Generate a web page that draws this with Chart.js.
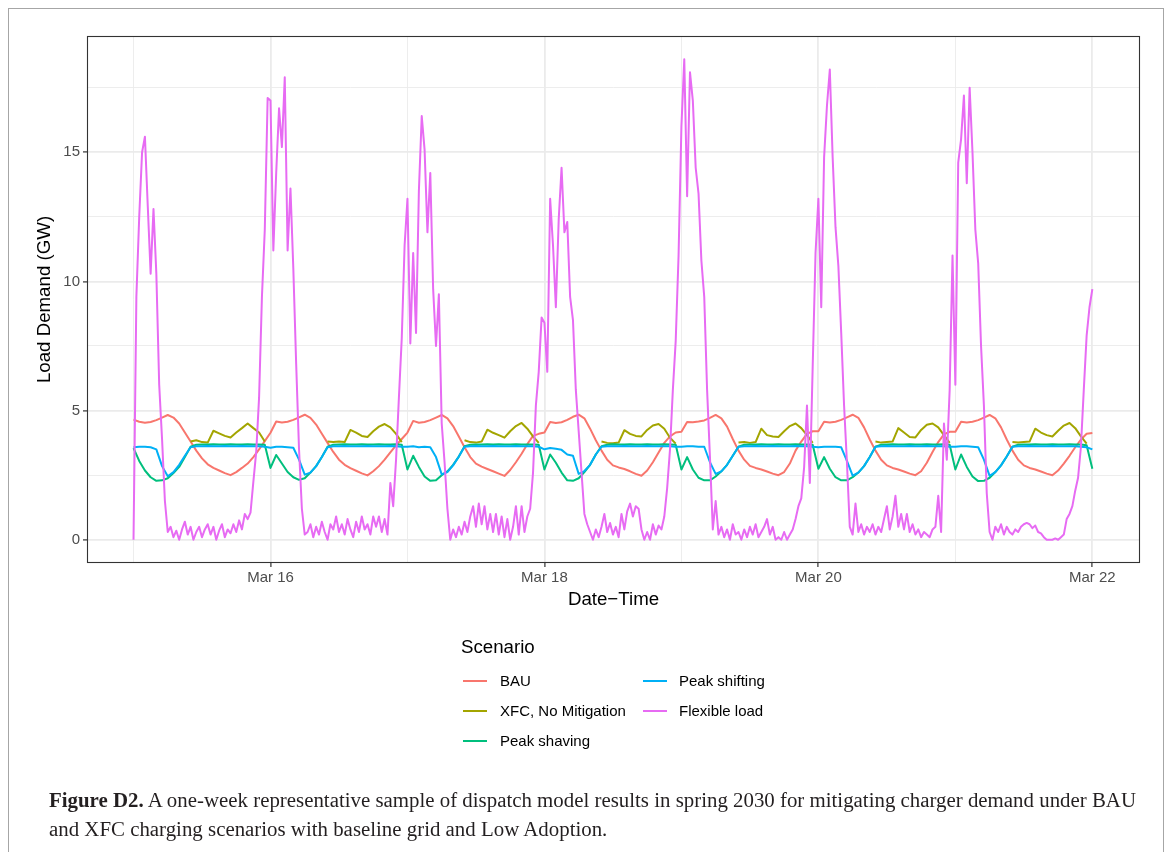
<!DOCTYPE html>
<html>
<head>
<meta charset="utf-8">
<script src="https://cdn.jsdelivr.net/npm/chart.js@4.4.1/dist/chart.umd.min.js"></script>
<style>
html, body { margin: 0; padding: 0; background: #ffffff; }
body { width: 1171px; height: 852px; position: relative; overflow: hidden; font-family: "Liberation Sans", Arial, sans-serif; }
#frame { position: absolute; left: 8px; top: 8px; width: 1156px; height: 900px; border: 1px solid #a6a6a6; box-sizing: border-box; }
#wrap { position: absolute; left: 0; top: 0; width: 1171px; height: 620px; }
#legend { position: absolute; left: 0; top: 0; width: 1171px; height: 852px; pointer-events: none; }
.legTitle { position: absolute; font-size: 18.7px; line-height: 1; color: #000; white-space: nowrap; }
.legLabel { position: absolute; font-size: 15px; line-height: 1; color: #000; white-space: nowrap; }
.legKey { position: absolute; height: 2px; width: 24px; }
.cap { position: absolute; left: 49px; font-family: "Liberation Serif", "Times New Roman", serif; font-size: 20px; line-height: 1; white-space: nowrap; color: #231f20; transform-origin: 0 0; }
</style>
</head>
<body>
<div id="frame"></div>
<div id="wrap"><canvas id="chart" width="1171" height="620"></canvas></div>
<div id="legend"></div>
<div id="cap1" class="cap" style="top:790px;"><b>Figure D2.</b> A one-week representative sample of dispatch model results in spring 2030 for mitigating charger demand under BAU</div>
<div id="cap2" class="cap" style="top:819px;">and XFC charging scenarios with baseline grid and Low Adoption.</div>
<script>
// ---------------- DATA ----------------
const seriesNames = ['BAU', 'XFC, No Mitigation', 'Peak shaving', 'Peak shifting', 'Flexible load'];
const seriesColors = ['#F8766D', '#A3A500', '#00BF7D', '#00B0F6', '#E76BF3'];

// time axis: hours after Mar 15 00:00
const hourlyStep = 1;      // BAU, XFC, Peak shaving, Peak shifting: one value per hour
const flexStep = 0.5;      // Flexible load: one value per half hour

const xMajorHours = [24, 72, 120, 168];
const xMajorLabels = ['Mar 16', 'Mar 18', 'Mar 20', 'Mar 22'];
const xMinorHours = [0, 48, 96, 144];
const yMajorValues = [0, 5, 10, 15];
const yMajorLabels = ['0', '5', '10', '15'];
const yMinorValues = [2.5, 7.5, 12.5, 17.5];

const bauLoad = [
  4.65, 4.57, 4.53, 4.56, 4.63, 4.73, 4.83, 4.73, 4.50, 4.15, 3.80, 3.45, 3.15, 2.92, 2.78, 2.68, 2.58, 2.50, 2.62, 2.78, 2.95, 3.20, 3.50, 3.82,
  4.14, 4.58, 4.54, 4.57, 4.64, 4.74, 4.84, 4.72, 4.46, 4.10, 3.75, 3.40, 3.10, 2.90, 2.77, 2.67, 2.57, 2.49, 2.65, 2.85, 3.10, 3.38, 3.65, 3.90,
  4.15, 4.60, 4.53, 4.56, 4.63, 4.73, 4.83, 4.70, 4.40, 4.00, 3.58, 3.20, 2.95, 2.83, 2.74, 2.65, 2.56, 2.47, 2.70, 3.00, 3.33, 3.70, 4.02, 4.10,
  4.15, 4.56, 4.52, 4.55, 4.64, 4.76, 4.84, 4.70, 4.30, 3.85, 3.45, 3.10, 2.88, 2.80, 2.74, 2.65, 2.55, 2.48, 2.68, 3.00, 3.38, 3.75, 4.00, 4.15,
  4.18, 4.56, 4.55, 4.58, 4.62, 4.72, 4.83, 4.70, 4.38, 3.90, 3.45, 3.10, 2.86, 2.78, 2.72, 2.64, 2.56, 2.50, 2.62, 2.95, 3.45, 3.80, 4.10, 4.20,
  4.20, 4.57, 4.54, 4.57, 4.64, 4.74, 4.84, 4.72, 4.35, 3.88, 3.45, 3.10, 2.88, 2.78, 2.72, 2.64, 2.56, 2.50, 2.65, 2.98, 3.40, 3.78, 4.08, 4.18,
  4.18, 4.57, 4.54, 4.57, 4.63, 4.73, 4.83, 4.70, 4.35, 3.88, 3.45, 3.10, 2.88, 2.78, 2.72, 2.64, 2.56, 2.50, 2.68, 2.95, 3.25, 3.58, 3.88, 4.10,
  4.13
];

const xfcLoad = [
  null, null, null, null, null, null, null, null, null, null, 3.80, 3.85, 3.78, 3.76, 4.22, 4.12, 4.02, 3.96, 4.15, 4.32, 4.50, 4.32, 4.15, 3.80,
  null, null, null, null, null, null, null, null, null, null, 3.80, 3.78, 3.80, 3.78, 4.25, 4.15, 4.02, 3.98, 4.20, 4.38, 4.48, 4.35, 4.10, 3.78,
  null, null, null, null, null, null, null, null, null, null, 3.85, 3.78, 3.76, 3.80, 4.26, 4.14, 4.05, 3.95, 4.20, 4.40, 4.52, 4.30, 4.00, 3.75,
  null, null, null, null, null, null, null, null, null, null, 3.80, 3.75, 3.74, 3.76, 4.24, 4.10, 4.02, 4.00, 4.25, 4.42, 4.48, 4.30, 3.95, 3.72,
  null, null, null, null, null, null, null, null, null, null, 3.76, 3.78, 3.75, 3.78, 4.30, 4.05, 4.00, 3.98, 4.20, 4.40, 4.50, 4.32, 4.05, 3.75,
  null, null, null, null, null, null, null, null, null, null, 3.80, 3.76, 3.78, 3.80, 4.32, 4.15, 3.98, 3.96, 4.25, 4.45, 4.50, 4.35, 4.05, 3.75,
  null, null, null, null, null, null, null, null, null, null, 3.78, 3.76, 3.78, 3.80, 4.30, 4.15, 4.05, 4.00, 4.22, 4.42, 4.52, 4.32, 4.00, 3.72,
  null
];

const peakShavingLoad = [
  3.55, 3.05, 2.68, 2.42, 2.28, 2.30, 2.38, 2.58, 2.82, 3.20, 3.60, 3.68, 3.69, 3.69, 3.70, 3.69, 3.69, 3.70, 3.69, 3.69, 3.70, 3.69, 3.69, 3.68,
  2.78, 3.28, 2.95, 2.62, 2.42, 2.32, 2.38, 2.60, 2.85, 3.20, 3.60, 3.68, 3.69, 3.70, 3.69, 3.69, 3.70, 3.69, 3.69, 3.70, 3.69, 3.69, 3.70, 3.68,
  2.72, 3.25, 2.82, 2.45, 2.28, 2.30, 2.50, 2.65, 2.90, 3.22, 3.62, 3.68, 3.69, 3.69, 3.70, 3.69, 3.70, 3.69, 3.69, 3.70, 3.69, 3.69, 3.69, 3.68,
  2.72, 3.30, 2.98, 2.60, 2.30, 2.28, 2.38, 2.62, 2.90, 3.30, 3.62, 3.68, 3.70, 3.69, 3.69, 3.70, 3.69, 3.69, 3.70, 3.69, 3.69, 3.70, 3.69, 3.68,
  2.72, 3.20, 2.72, 2.40, 2.30, 2.30, 2.45, 2.65, 2.90, 3.25, 3.60, 3.68, 3.69, 3.69, 3.70, 3.69, 3.69, 3.70, 3.69, 3.69, 3.70, 3.69, 3.69, 3.68,
  2.75, 3.20, 2.75, 2.42, 2.30, 2.30, 2.42, 2.60, 2.85, 3.20, 3.60, 3.68, 3.69, 3.70, 3.69, 3.69, 3.70, 3.69, 3.69, 3.70, 3.69, 3.69, 3.70, 3.68,
  2.72, 3.30, 2.82, 2.45, 2.27, 2.28, 2.40, 2.62, 2.88, 3.22, 3.60, 3.68, 3.69, 3.69, 3.70, 3.69, 3.69, 3.70, 3.69, 3.69, 3.70, 3.69, 3.69, 3.66,
  2.75
];

const peakShiftingLoad = [
  3.58, 3.60, 3.60, 3.58, 3.50, 2.85, 2.46, 2.62, 2.90, 3.25, 3.58, 3.62, 3.62, 3.63, 3.62, 3.62, 3.63, 3.62, 3.62, 3.63, 3.62, 3.62, 3.62, 3.60,
  3.56, 3.60, 3.60, 3.58, 3.56, 3.10, 2.52, 2.60, 2.85, 3.20, 3.58, 3.62, 3.62, 3.63, 3.62, 3.62, 3.62, 3.63, 3.62, 3.62, 3.62, 3.63, 3.62, 3.60,
  3.60, 3.62, 3.58, 3.60, 3.58, 3.20, 2.53, 2.62, 2.88, 3.22, 3.60, 3.62, 3.63, 3.62, 3.62, 3.63, 3.62, 3.62, 3.62, 3.63, 3.62, 3.62, 3.62, 3.60,
  3.50, 3.55, 3.52, 3.48, 3.30, 3.25, 2.55, 2.66, 2.90, 3.30, 3.60, 3.62, 3.62, 3.62, 3.63, 3.62, 3.62, 3.62, 3.63, 3.62, 3.62, 3.62, 3.62, 3.60,
  3.60, 3.62, 3.62, 3.60, 3.60, 3.00, 2.55, 2.65, 2.90, 3.25, 3.60, 3.62, 3.62, 3.63, 3.62, 3.62, 3.63, 3.62, 3.62, 3.62, 3.63, 3.62, 3.62, 3.60,
  3.58, 3.60, 3.60, 3.60, 3.58, 3.05, 2.48, 2.60, 2.85, 3.20, 3.60, 3.62, 3.63, 3.62, 3.62, 3.62, 3.63, 3.62, 3.62, 3.63, 3.62, 3.62, 3.62, 3.60,
  3.60, 3.62, 3.62, 3.60, 3.58, 3.10, 2.47, 2.62, 2.88, 3.22, 3.60, 3.62, 3.62, 3.63, 3.62, 3.62, 3.62, 3.63, 3.62, 3.62, 3.62, 3.62, 3.60, 3.58,
  3.50
];

const flexibleLoad = [
  0, 9.4, 12.5, 15.0, 15.6, 12.9, 10.3, 12.8, 10.3, 6.0, 3.9, 1.5,
  0.3, 0.5, 0.1, 0.35, 0, 0.4, 0.7, 0.2, 0.5, 0, 0.3, 0.5,
  0.1, 0.4, 0.6, 0.2, 0.5, 0, 0.35, 0.6, 0.1, 0.4, 0.25, 0.6,
  0.3, 0.75, 0.4, 1.0, 0.8, 1.05, 2.25, 3.4, 5.5, 9.4, 12.0, 17.1,
  17.0, 11.2, 14.2, 16.7, 15.2, 17.9, 11.2, 13.6, 10.5, 6.8, 3.5, 1.2,
  0.2, 0.3, 0.6, 0.1, 0.5, 0.2, 0.7, 0.3, 0, 0.6, 0.4, 0.9,
  0.3, 0.6, 0.2, 0.8, 0.4, 0.1, 0.7, 0.3, 0.9, 0.4, 0.6, 0.2,
  0.9, 0.5, 0.9, 0.3, 0.8, 0.2, 2.2, 1.3, 3.1, 5.5, 7.8, 11.4,
  13.2, 7.6, 11.1, 8.0, 13.5, 16.4, 15.1, 11.9, 14.2, 9.7, 7.5, 9.5,
  4.5, 3.0, 1.2, 0, 0.4, 0.1, 0.5, 0.2, 0.7, 0.3, 0.9, 1.3,
  0.5, 1.4, 0.6, 1.3, 0.4, 1.0, 0.3, 1.0, 0.2, 0.9, 0.1, 0.8,
  0, 0.5, 1.3, 0.2, 1.3, 0.3, 0.9, 1.2, 2.6, 5.2, 6.5, 8.6,
  8.4, 6.5, 13.2, 11.4, 9.0, 12.4, 14.4, 11.9, 12.3, 9.4, 8.5, 5.8,
  4.2, 2.6, 1.0, 0.6, 0.3, 0, 0.4, 0.1, 0.5, 1.0, 0.3, 0.65,
  0.2, 0.5, 0.1, 1.0, 0.4, 1.1, 1.4, 0.9, 1.3, 1.2, 0.4, 0,
  0.3, 0, 0.6, 0.2, 0.55, 0.4, 0.9, 2.0, 3.5, 5.8, 7.7, 11.0,
  16.0, 18.6, 13.3, 18.1, 17.0, 14.4, 13.4, 10.8, 9.4, 5.8, 3.2, 0.4,
  1.5, 0.2, 0.5, 0.1, 0.4, 0, 0.6, 0.2, 0.3, 0, 0.4, 0.1,
  0.5, 0.2, 0.6, 0.1, 0.3, 0.5, 0.8, 0.2, 0.5, 0, 0.1, 0,
  0.3, 0, 0.2, 0.4, 0.8, 1.3, 1.6, 2.8, 5.2, 2.2, 6.7, 11.1,
  13.2, 9.0, 14.8, 16.8, 18.2, 14.8, 12.1, 10.6, 8.0, 5.2, 3.0, 0.5,
  0.2, 1.4, 0.3, 0.6, 0.2, 0.5, 0.3, 0.6, 0.2, 0.5, 0.3, 0.8,
  1.3, 0.4, 0.9, 1.7, 0.5, 1.0, 0.4, 1.0, 0.3, 0.6, 0.2, 0.4,
  0.1, 0.3, 0.2, 0.1, 0.4, 0.5, 1.7, 0.3, 4.5, 3.1, 5.8, 11.0,
  6.0, 14.6, 15.5, 17.2, 13.8, 17.5, 15.0, 12.0, 10.7, 7.5, 5.2, 1.8,
  0.3, 0, 0.5, 0.3, 0.6, 0.2, 0.5, 0.3, 0.2, 0.4, 0.3, 0.5,
  0.6, 0.65, 0.6, 0.45, 0.55, 0.3, 0.25, 0.1, 0, 0, 0, 0.05,
  0, 0.1, 0.2, 0.8, 1.0, 1.3, 1.9, 2.4, 3.6, 5.8, 7.9, 9.0,
  9.7
];

const seriesValues = [bauLoad, xfcLoad, peakShavingLoad, peakShiftingLoad, flexibleLoad];
const seriesSteps = [hourlyStep, hourlyStep, hourlyStep, hourlyStep, flexStep];

// ---------------- CHART ----------------
Chart.defaults.font.family = '"Liberation Sans", Arial, sans-serif';

const PANEL = { left: 87, top: 36, right: 1140, bottom: 563 };
const CANVAS_W = 1171, CANVAS_H = 620;

const datasets = seriesNames.map((name, i) => ({
  label: name,
  data: seriesValues[i].map((v, k) => ({ x: k * seriesSteps[i], y: v })),
  borderColor: seriesColors[i],
  backgroundColor: seriesColors[i],
  borderWidth: 2,
  borderJoinStyle: 'round',
  borderCapStyle: 'butt',
  pointRadius: 0,
  pointHoverRadius: 0,
  tension: 0,
  fill: false,
  spanGaps: false,
  order: seriesNames.length - 1 - i
}));

const panelBorder = {
  id: 'panelBorder',
  afterDraw(chart) {
    const { ctx, chartArea: a } = chart;
    ctx.save();
    ctx.strokeStyle = '#333333';
    ctx.lineWidth = 1.1;
    ctx.strokeRect(a.left + 0.5, a.top + 0.5, a.right - a.left - 1, a.bottom - a.top - 1);
    ctx.restore();
  }
};

const isMajorX = v => xMajorHours.indexOf(v) >= 0;
const isMajorY = v => yMajorValues.indexOf(v) >= 0;

new Chart(document.getElementById('chart'), {
  type: 'line',
  data: { datasets },
  plugins: [panelBorder],
  options: {
    responsive: false,
    animation: false,
    events: [],
    layout: { padding: { left: 0, top: PANEL.top, right: CANVAS_W - PANEL.right, bottom: 0 } },
    plugins: { legend: { display: false }, tooltip: { enabled: false } },
    scales: {
      x: {
        type: 'linear',
        min: -8.15,
        max: 176.35,
        afterBuildTicks: s => { s.ticks = xMinorHours.concat(xMajorHours).sort((a, b) => a - b).map(v => ({ value: v })); },
        afterFit: s => { s.height = CANVAS_H - PANEL.bottom; },
        ticks: {
          autoSkip: false, maxRotation: 0, minRotation: 0, padding: 2,
          color: '#4D4D4D', font: { size: 15 },
          callback: v => { const k = xMajorHours.indexOf(v); return k >= 0 ? xMajorLabels[k] : ''; }
        },
        grid: {
          color: '#EBEBEB',
          lineWidth: c => (c.tick && isMajorX(c.tick.value)) ? 1.8 : 0.9,
          drawTicks: true, tickLength: 4, tickWidth: 1.2,
          tickColor: c => (c.tick && isMajorX(c.tick.value)) ? '#333333' : 'rgba(0,0,0,0)'
        },
        border: { display: false },
        title: { display: true, text: 'Date\u2212Time', color: '#000000', font: { size: 18.7 }, padding: { top: 0, bottom: 9 } }
      },
      y: {
        type: 'linear',
        min: -0.9,
        max: 19.5,
        afterBuildTicks: s => { s.ticks = yMajorValues.concat(yMinorValues).sort((a, b) => a - b).map(v => ({ value: v })); },
        afterFit: s => { s.width = PANEL.left; },
        ticks: {
          autoSkip: false, padding: 3,
          color: '#4D4D4D', font: { size: 15 },
          callback: v => { const k = yMajorValues.indexOf(v); return k >= 0 ? yMajorLabels[k] : ''; }
        },
        grid: {
          color: '#EBEBEB',
          lineWidth: c => (c.tick && isMajorY(c.tick.value)) ? 1.8 : 0.9,
          drawTicks: true, tickLength: 4, tickWidth: 1.2,
          tickColor: c => (c.tick && isMajorY(c.tick.value)) ? '#333333' : 'rgba(0,0,0,0)'
        },
        border: { display: false },
        title: { display: true, text: 'Load Demand (GW)', color: '#000000', font: { size: 18.7 }, padding: { top: 34, bottom: 0 } }
      }
    }
  }
});

// ---------------- LEGEND (HTML) ----------------
(function buildLegend() {
  const legend = document.getElementById('legend');
  const title = document.createElement('div');
  title.className = 'legTitle';
  title.textContent = 'Scenario';
  title.style.left = '461px';
  title.style.top = '638px';
  legend.appendChild(title);
  const rows = 3;
  const keyLeft = [463, 642.7];
  const labelLeft = [500, 679];
  const rowCenter = [681, 711, 741];
  seriesNames.forEach((name, i) => {
    const col = Math.floor(i / rows), row = i % rows;
    const key = document.createElement('div');
    key.className = 'legKey';
    key.style.background = seriesColors[i];
    key.style.left = keyLeft[col] + 'px';
    key.style.top = (rowCenter[row] - 1) + 'px';
    legend.appendChild(key);
    const lab = document.createElement('div');
    lab.className = 'legLabel';
    lab.textContent = name;
    lab.style.left = labelLeft[col] + 'px';
    lab.style.top = (rowCenter[row] - 8) + 'px';
    legend.appendChild(lab);
  });
})();

// ---------------- CAPTION width fit ----------------
(function fitCaption() {
  const c1 = document.getElementById('cap1');
  const c2 = document.getElementById('cap2');
  const w = c1.getBoundingClientRect().width;
  const s = 1087 / w;
  c1.style.transform = 'scaleX(' + s + ')';
  c2.style.transform = 'scaleX(' + s + ')';
})();
</script>
</body>
</html>
